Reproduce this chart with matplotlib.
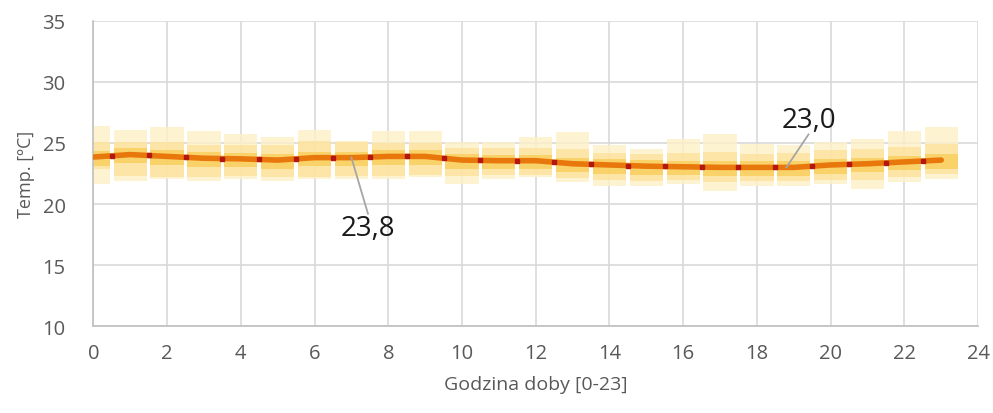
import numpy as np
import matplotlib.pyplot as plt
from matplotlib.patches import Rectangle

plt.rcParams['font.family'] = ['Open Sans', 'DejaVu Sans']

# hours of the day and mean temperature per hour
hours = np.arange(24)
t_mean = [23.85, 24.05, 23.9, 23.75, 23.7, 23.6, 23.8, 23.8, 23.9, 23.9, 23.6, 23.55,
          23.55, 23.3, 23.2, 23.1, 23.05, 23.0, 23.0, 23.0, 23.2, 23.3, 23.45, 23.6]
# outer range of readings per hour
t_outer_hi = [26.4, 26.1, 26.3, 26.0, 25.7, 25.5, 26.1, 25.2, 26.0, 26.0, 25.1, 25.1,
              25.45, 25.9, 24.8, 24.5, 25.3, 25.7, 24.9, 24.8, 25.05, 25.3, 26.0, 26.3]
t_outer_lo = [21.6, 21.9, 22.05, 21.9, 22.05, 21.9, 22.05, 22.05, 22.05, 22.2, 21.6, 22.05,
              22.2, 21.8, 21.5, 21.5, 21.6, 21.1, 21.5, 21.5, 21.6, 21.2, 21.8, 22.05]
# inner range (most frequent readings)
t_inner_hi = [25.05, 25.05, 25.05, 24.8, 24.8, 24.8, 25.2, 25.05, 25.0, 25.0, 24.6, 24.6,
              24.6, 24.5, 24.2, 24.1, 24.2, 24.3, 24.1, 24.2, 24.4, 24.5, 24.7, 24.9]
t_inner_lo = [22.9, 22.3, 22.2, 22.2, 22.3, 22.2, 22.2, 22.3, 22.3, 22.4, 22.3, 22.4,
              22.4, 22.1, 22.0, 21.9, 22.0, 21.8, 21.9, 21.9, 22.0, 22.0, 22.2, 22.5]

labels = [(7, 23.8, '23,8', 7.45, 18.0), (18.8, 23.0, '23,0', 19.4, 26.9)]

fig = plt.figure(figsize=(9.93, 4.14), dpi=100)
ax = fig.add_axes([0.094, 0.21, 0.891, 0.737])

grid_c = '#D9D9D9'
w = 0.9
for h, ohi, olo, ihi, ilo, m in zip(hours, t_outer_hi, t_outer_lo, t_inner_hi, t_inner_lo, t_mean):
    ax.add_patch(Rectangle((h - w / 2, olo), w, ohi - olo, facecolor='#FEF0C6',
                           edgecolor='none', alpha=0.8, zorder=2))
    ax.add_patch(Rectangle((h - w / 2, ilo), w, ihi - ilo, facecolor='#FCE096',
                           edgecolor='none', alpha=0.7, zorder=2))
    ax.add_patch(Rectangle((h - w / 2, m - 0.7), w, 1.2, facecolor='#F9C84A',
                           edgecolor='none', alpha=0.65, zorder=2))

ax.plot(hours, t_mean, color='#E8780C', lw=4, solid_capstyle='round', zorder=3)
mk_x = hours[:-1] + 0.5
mk_y = np.interp(mk_x, hours, t_mean)
ax.plot(mk_x, mk_y, linestyle='none', marker='s', ms=3, color='#B3170F', zorder=4)

for x0, y0, txt, tx, ty in labels:
    ax.plot([x0, tx], [y0, ty + 1.2 if ty < y0 else ty - 1.2], color='#A6A6A6', lw=1.3, zorder=5)
    ax.text(tx, ty, txt, ha='center', va='center', fontsize=20, color='#1A1A1A', zorder=6)

ax.set_xlim(0, 24)
ax.set_ylim(10, 35)
ax.set_xticks(np.arange(0, 25, 2))
ax.set_yticks(np.arange(10, 36, 5))
ax.grid(True, color=grid_c, lw=1.2, zorder=0)
ax.set_axisbelow(True)
for s in ['top', 'right']:
    ax.spines[s].set_visible(False)
for s in ['left', 'bottom']:
    ax.spines[s].set_color('#BFBFBF')
    ax.spines[s].set_linewidth(1.2)
ax.tick_params(length=0, labelsize=14.5, colors='#595959', pad=12)
ax.tick_params(axis='y', pad=20)
ax.set_xlabel('Godzina doby [0-23]', fontsize=14, color='#595959', labelpad=9)
ax.set_ylabel('Temp. [ºC]', fontsize=13, color='#595959', labelpad=5)

fig.savefig('out.png', dpi=100)
